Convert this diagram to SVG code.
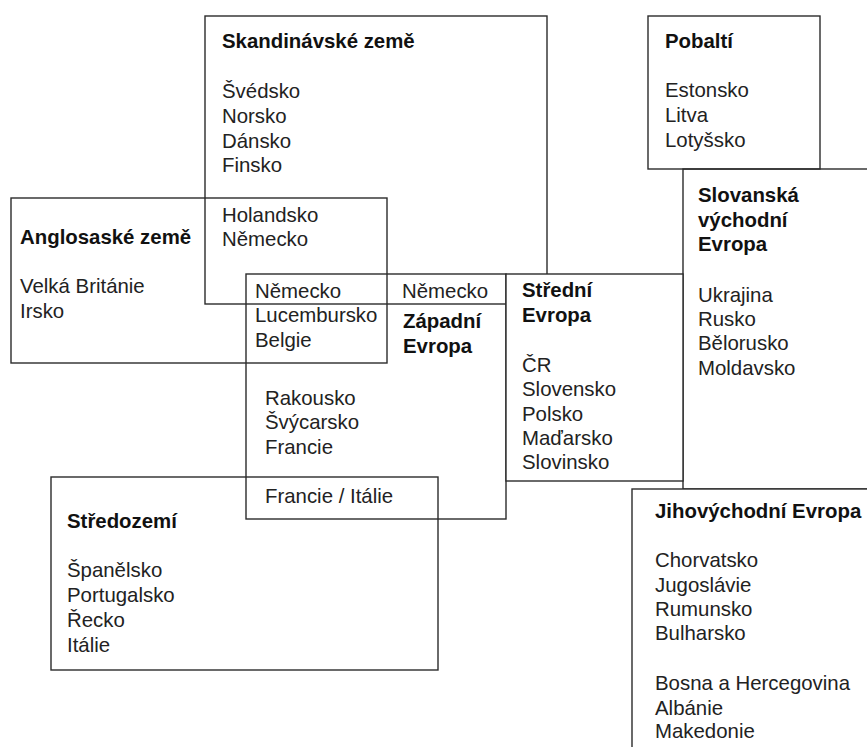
<svg xmlns="http://www.w3.org/2000/svg" width="867" height="747" viewBox="0 0 867 747">
<style>
.box{fill:none;stroke:#2b2b2b;stroke-width:1.4}
.fill{fill:#ffffff}
text{font-family:"Liberation Sans",Arial,sans-serif;font-size:20.4px;fill:#222}
.h{font-weight:bold;fill:#111}
</style>
<rect width="867" height="747" fill="#ffffff"/>
<g id="skandinavske">
<rect class="box" x="205" y="16" width="342" height="288"/>
<text class="h" x="222" y="48">Skandinávské země</text>
<text x="222" y="98">Švédsko</text>
<text x="222" y="123">Norsko</text>
<text x="222" y="148">Dánsko</text>
<text x="222" y="172">Finsko</text>
<text x="222" y="222">Holandsko</text>
<text x="222" y="246">Německo</text>
</g>
<g id="pobalti">
<rect class="box" x="648" y="16" width="172" height="153"/>
<text class="h" x="665" y="48">Pobaltí</text>
<text x="665" y="97">Estonsko</text>
<text x="665" y="122">Litva</text>
<text x="665" y="147">Lotyšsko</text>
</g>
<g id="anglosaske">
<rect class="box" x="11" y="198" width="376" height="165"/>
<text class="h" x="20" y="244">Anglosaské země</text>
<text x="20" y="293">Velká Británie</text>
<text x="20" y="318">Irsko</text>
</g>
<g id="zapadni">
<rect class="box" x="246" y="274" width="260" height="245"/>
<text x="255" y="298">Německo</text>
<text x="402" y="298">Německo</text>
<text x="255" y="322">Lucembursko</text>
<text x="255" y="347">Belgie</text>
<text class="h" x="403" y="328">Západní</text>
<text class="h" x="403" y="353">Evropa</text>
<text x="265" y="405">Rakousko</text>
<text x="265" y="429">Švýcarsko</text>
<text x="265" y="454">Francie</text>
<text x="265" y="503">Francie / Itálie</text>
</g>
<g id="stredozemi">
<rect class="box" x="51" y="477" width="387" height="193"/>
<text class="h" x="67" y="528">Středozemí</text>
<text x="67" y="577">Španělsko</text>
<text x="67" y="602">Portugalsko</text>
<text x="67" y="627">Řecko</text>
<text x="67" y="652">Itálie</text>
</g>
<g id="slovanska">
<rect class="box" x="683" y="169" width="200" height="320"/>
<text class="h" x="698" y="202">Slovanská</text>
<text class="h" x="698" y="227">východní</text>
<text class="h" x="698" y="251">Evropa</text>
<text x="698" y="302">Ukrajina</text>
<text x="698" y="326">Rusko</text>
<text x="698" y="350">Bělorusko</text>
<text x="698" y="375">Moldavsko</text>
</g>
<g id="stredni">
<rect class="box fill" x="506" y="274" width="177" height="207"/>
<text class="h" x="522" y="297">Střední</text>
<text class="h" x="522" y="322">Evropa</text>
<text x="522" y="372">ČR</text>
<text x="522" y="396">Slovensko</text>
<text x="522" y="421">Polsko</text>
<text x="522" y="445">Maďarsko</text>
<text x="522" y="469">Slovinsko</text>
</g>
<g id="jihovychodni">
<rect class="box fill" x="632" y="489" width="250" height="280"/>
<text class="h" x="655" y="518">Jihovýchodní Evropa</text>
<text x="655" y="567">Chorvatsko</text>
<text x="655" y="592">Jugoslávie</text>
<text x="655" y="616">Rumunsko</text>
<text x="655" y="640">Bulharsko</text>
<text x="655" y="690">Bosna a Hercegovina</text>
<text x="655" y="715">Albánie</text>
<text x="655" y="738">Makedonie</text>
</g>
</svg>
